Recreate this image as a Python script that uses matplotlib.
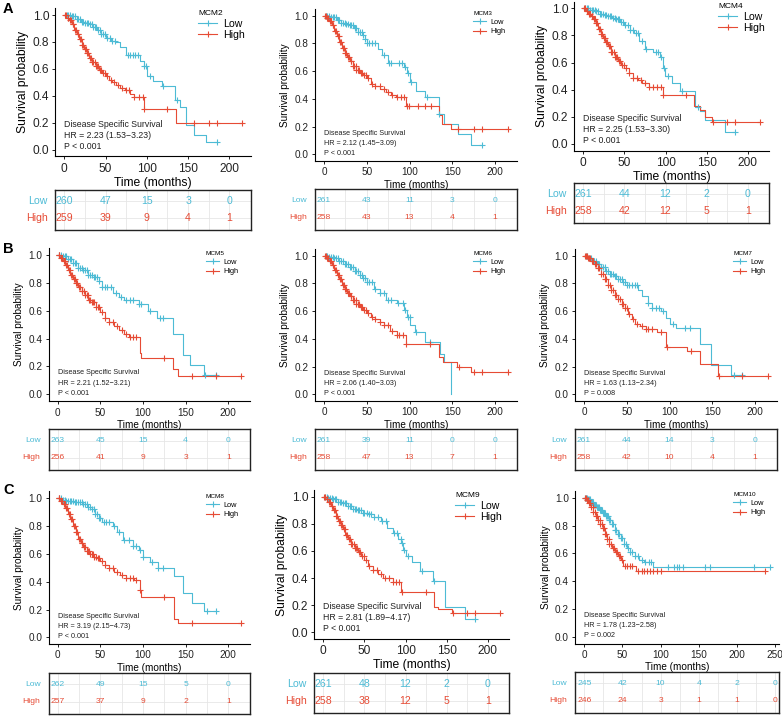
import numpy as np
import matplotlib
matplotlib.use('Agg')
from matplotlib import pyplot as plt
from matplotlib.lines import Line2D

plt.rcParams['font.family'] = ['Liberation Sans', 'DejaVu Sans']

LOW_COL  = '#4DBBD5'
HIGH_COL = '#E64B35'
TXT_COL  = '#222222'

# ---------------- data ----------------
# MCM2
mcm2_low_t  = [0, 8, 15, 20, 25, 30, 35, 40, 45, 50, 57, 62, 68, 75, 92, 96, 100, 108, 118, 134, 140, 148, 157, 172]
mcm2_low_s  = [1.0, 0.99, 0.97, 0.95, 0.94, 0.93, 0.91, 0.89, 0.86, 0.83, 0.81, 0.80, 0.76, 0.70, 0.66, 0.62, 0.55, 0.51, 0.47, 0.37, 0.32, 0.18, 0.11, 0.06]
mcm2_low_c  = [3, 5, 7, 9, 11, 13, 15, 17, 19, 21, 23, 25, 27, 29, 31, 33, 35, 37, 39, 41, 43, 45, 47, 49, 52, 55, 58, 61, 77, 80, 83, 86, 89, 97, 99, 104, 120, 137, 185]
mcm2_high_t = [0, 3, 6, 9, 12, 15, 18, 21, 24, 27, 30, 34, 38, 42, 46, 50, 54, 58, 63, 68, 74, 80, 84, 96, 135]
mcm2_high_s = [1.0, 0.98, 0.96, 0.93, 0.89, 0.86, 0.82, 0.78, 0.75, 0.72, 0.68, 0.65, 0.62, 0.59, 0.57, 0.55, 0.52, 0.50, 0.48, 0.46, 0.44, 0.41, 0.39, 0.30, 0.20]
mcm2_high_c = [1, 2, 4, 5, 7, 8, 10, 11, 13, 14, 16, 17, 19, 20, 22, 23, 25, 26, 28, 29, 31, 32, 34, 35, 37, 38, 40, 41, 43, 45, 47, 49, 52, 56, 60, 65, 70, 75, 78, 85, 90, 95, 97, 125, 157, 175, 185, 215]
mcm2_low_risk  = [260, 47, 15, 3, 0]
mcm2_high_risk = [259, 39, 9, 4, 1]

# MCM3
mcm3_low_t  = [0, 8, 15, 20, 25, 30, 35, 40, 45, 48, 50, 63, 68, 75, 93, 97, 100, 108, 118, 135, 140, 157, 172]
mcm3_low_s  = [1.0, 0.99, 0.97, 0.95, 0.94, 0.93, 0.91, 0.88, 0.86, 0.83, 0.80, 0.76, 0.72, 0.66, 0.63, 0.59, 0.52, 0.46, 0.41, 0.29, 0.22, 0.15, 0.07]
mcm3_low_c  = [2, 4, 6, 8, 10, 12, 14, 16, 18, 20, 22, 24, 26, 28, 30, 32, 34, 36, 38, 40, 42, 44, 46, 48, 50, 53, 56, 60, 70, 76, 78, 88, 91, 95, 98, 102, 120, 135, 185]
mcm3_high_t = [0, 3, 6, 9, 12, 15, 18, 21, 24, 27, 30, 34, 38, 42, 46, 50, 55, 60, 66, 72, 78, 84, 96, 135, 138, 148]
mcm3_high_s = [1.0, 0.98, 0.96, 0.93, 0.89, 0.85, 0.81, 0.77, 0.73, 0.70, 0.67, 0.64, 0.61, 0.59, 0.57, 0.55, 0.51, 0.49, 0.47, 0.45, 0.43, 0.41, 0.35, 0.28, 0.22, 0.18]
mcm3_high_c = [1, 2, 4, 5, 7, 8, 10, 11, 13, 14, 16, 17, 19, 20, 22, 23, 25, 26, 28, 29, 31, 32, 34, 35, 37, 38, 40, 41, 43, 45, 47, 49, 52, 56, 60, 65, 70, 75, 80, 85, 90, 94, 97, 99, 110, 118, 125, 157, 175, 185, 215]
mcm3_low_risk  = [261, 43, 11, 3, 0]
mcm3_high_risk = [258, 43, 13, 4, 1]

# MCM4
mcm4_low_t  = [0, 8, 15, 20, 25, 30, 35, 40, 45, 50, 57, 62, 68, 75, 85, 93, 97, 99, 108, 118, 136, 142, 148, 172]
mcm4_low_s  = [1.0, 0.99, 0.98, 0.96, 0.95, 0.94, 0.93, 0.92, 0.90, 0.88, 0.84, 0.82, 0.76, 0.70, 0.68, 0.64, 0.56, 0.50, 0.45, 0.39, 0.27, 0.24, 0.18, 0.09]
mcm4_low_c  = [2, 4, 6, 8, 10, 12, 14, 16, 18, 20, 22, 24, 26, 28, 30, 32, 34, 36, 38, 40, 42, 44, 46, 48, 51, 54, 57, 60, 64, 66, 72, 76, 88, 91, 95, 98, 103, 120, 140, 185]
mcm4_high_t = [0, 3, 6, 9, 12, 15, 18, 21, 24, 27, 30, 34, 38, 42, 46, 50, 55, 60, 66, 72, 80, 97, 135, 142, 148, 157]
mcm4_high_s = [1.0, 0.98, 0.96, 0.94, 0.92, 0.89, 0.85, 0.81, 0.78, 0.75, 0.72, 0.68, 0.64, 0.61, 0.58, 0.56, 0.52, 0.49, 0.47, 0.45, 0.42, 0.36, 0.28, 0.25, 0.20, 0.165]
mcm4_high_c = [1, 2, 4, 5, 7, 8, 10, 11, 13, 14, 16, 17, 19, 20, 22, 23, 25, 26, 28, 29, 31, 32, 34, 35, 37, 38, 40, 41, 43, 45, 47, 49, 52, 56, 60, 65, 70, 75, 80, 85, 90, 94, 97, 125, 158, 175, 185, 215]
mcm4_low_risk  = [261, 44, 12, 2, 0]
mcm4_high_risk = [258, 42, 12, 5, 1]

# MCM5
mcm5_low_t  = [0, 6, 12, 18, 24, 30, 36, 42, 48, 52, 65, 72, 78, 95, 106, 116, 135, 147, 155, 172]
mcm5_low_s  = [1.0, 0.99, 0.97, 0.94, 0.91, 0.89, 0.86, 0.84, 0.81, 0.77, 0.73, 0.70, 0.68, 0.65, 0.60, 0.55, 0.43, 0.28, 0.21, 0.14]
mcm5_low_c  = [2, 4, 6, 8, 10, 12, 14, 16, 18, 20, 22, 24, 26, 28, 30, 32, 34, 36, 38, 40, 42, 44, 46, 48, 52, 55, 58, 62, 68, 74, 80, 85, 88, 95, 98, 108, 120, 124, 173, 185]
mcm5_high_t = [0, 3, 6, 9, 12, 15, 18, 21, 24, 28, 32, 36, 40, 45, 50, 55, 60, 66, 72, 78, 84, 96, 98, 135, 141]
mcm5_high_s = [1.0, 0.98, 0.96, 0.93, 0.89, 0.86, 0.83, 0.80, 0.77, 0.74, 0.71, 0.68, 0.66, 0.63, 0.59, 0.55, 0.52, 0.49, 0.46, 0.43, 0.41, 0.30, 0.26, 0.18, 0.13]
mcm5_high_c = [1, 2, 4, 5, 7, 8, 10, 11, 13, 14, 16, 17, 19, 20, 22, 23, 25, 26, 28, 29, 31, 32, 34, 35, 37, 38, 40, 41, 43, 45, 47, 49, 52, 56, 60, 65, 70, 75, 80, 85, 88, 92, 125, 158, 185, 215]
mcm5_low_risk  = [263, 45, 15, 4, 0]
mcm5_high_risk = [256, 41, 9, 3, 1]

# MCM6
mcm6_low_t  = [0, 6, 12, 18, 24, 30, 36, 42, 46, 50, 58, 65, 73, 85, 93, 97, 101, 106, 118, 136, 140, 148]
mcm6_low_s  = [1.0, 0.99, 0.98, 0.96, 0.94, 0.92, 0.89, 0.86, 0.84, 0.81, 0.76, 0.73, 0.68, 0.66, 0.61, 0.56, 0.50, 0.45, 0.38, 0.29, 0.23, 0.0]
mcm6_low_c  = [2, 4, 6, 8, 10, 12, 14, 16, 18, 20, 22, 24, 26, 28, 30, 32, 34, 36, 38, 40, 42, 44, 46, 48, 50, 53, 56, 60, 66, 70, 75, 78, 86, 92, 95, 98, 100, 108, 124]
mcm6_high_t = [0, 3, 6, 9, 12, 15, 18, 21, 24, 27, 30, 34, 38, 42, 46, 50, 55, 60, 65, 70, 77, 85, 96, 135, 139, 155, 172]
mcm6_high_s = [1.0, 0.98, 0.96, 0.93, 0.90, 0.86, 0.83, 0.79, 0.76, 0.73, 0.71, 0.68, 0.65, 0.63, 0.61, 0.59, 0.56, 0.54, 0.52, 0.50, 0.46, 0.43, 0.36, 0.27, 0.23, 0.20, 0.16]
mcm6_high_c = [1, 2, 4, 5, 7, 8, 10, 11, 13, 14, 16, 17, 19, 20, 22, 23, 25, 26, 28, 29, 31, 32, 34, 35, 37, 38, 40, 41, 43, 45, 47, 49, 52, 56, 60, 65, 70, 75, 80, 85, 88, 92, 96, 124, 158, 175, 185, 215]
mcm6_low_risk  = [261, 39, 11, 0, 0]
mcm6_high_risk = [258, 47, 13, 7, 1]

# MCM7
mcm7_low_t  = [0, 5, 10, 15, 20, 25, 30, 35, 40, 45, 50, 63, 68, 75, 80, 90, 96, 100, 108, 136, 148, 172]
mcm7_low_s  = [1.0, 0.98, 0.96, 0.94, 0.92, 0.89, 0.87, 0.85, 0.83, 0.81, 0.79, 0.75, 0.71, 0.66, 0.62, 0.60, 0.55, 0.51, 0.48, 0.36, 0.21, 0.14]
mcm7_low_c  = [2, 4, 6, 8, 10, 12, 14, 16, 18, 20, 22, 24, 26, 28, 30, 32, 34, 36, 38, 40, 42, 44, 46, 48, 50, 53, 56, 60, 62, 75, 80, 84, 88, 92, 104, 118, 124, 175, 185]
mcm7_high_t = [0, 4, 8, 12, 16, 20, 24, 28, 32, 36, 40, 44, 48, 52, 56, 60, 66, 72, 85, 96, 120, 136, 157]
mcm7_high_s = [1.0, 0.98, 0.96, 0.94, 0.91, 0.87, 0.83, 0.79, 0.75, 0.72, 0.69, 0.65, 0.62, 0.58, 0.54, 0.51, 0.49, 0.47, 0.45, 0.34, 0.31, 0.22, 0.13]
mcm7_high_c = [1, 2, 3, 5, 6, 7, 9, 11, 13, 14, 16, 18, 20, 22, 24, 26, 28, 30, 32, 34, 36, 38, 40, 42, 44, 46, 48, 50, 53, 57, 62, 68, 72, 75, 80, 90, 97, 125, 158, 185, 215]
mcm7_low_risk  = [261, 44, 14, 3, 0]
mcm7_high_risk = [258, 42, 10, 4, 1]

# MCM8
mcm8_low_t  = [0, 5, 10, 20, 30, 36, 40, 44, 48, 52, 65, 70, 77, 88, 95, 100, 108, 118, 136, 147, 157, 172]
mcm8_low_s  = [1.0, 0.99, 0.98, 0.97, 0.96, 0.94, 0.92, 0.89, 0.86, 0.83, 0.80, 0.76, 0.70, 0.66, 0.63, 0.58, 0.54, 0.50, 0.44, 0.32, 0.25, 0.19]
mcm8_low_c  = [2, 4, 6, 8, 10, 12, 14, 16, 18, 20, 22, 24, 26, 28, 30, 32, 34, 36, 38, 40, 42, 44, 46, 48, 50, 54, 57, 60, 66, 72, 78, 84, 88, 92, 96, 100, 110, 118, 124, 175, 185]
mcm8_high_t = [0, 3, 6, 9, 12, 15, 18, 21, 24, 27, 30, 34, 38, 42, 46, 50, 55, 60, 66, 73, 80, 90, 96, 98, 136, 141]
mcm8_high_s = [1.0, 0.98, 0.96, 0.93, 0.89, 0.85, 0.80, 0.76, 0.71, 0.68, 0.65, 0.62, 0.60, 0.58, 0.57, 0.55, 0.52, 0.50, 0.47, 0.45, 0.43, 0.41, 0.34, 0.29, 0.13, 0.10]
mcm8_high_c = [1, 2, 4, 5, 7, 8, 10, 11, 13, 14, 16, 17, 19, 20, 22, 23, 25, 26, 28, 29, 31, 32, 34, 35, 37, 38, 40, 41, 43, 45, 47, 49, 52, 56, 60, 65, 70, 75, 80, 85, 88, 92, 96, 125, 158, 215]
mcm8_low_risk  = [262, 49, 15, 5, 0]
mcm8_high_risk = [257, 37, 9, 2, 1]

# MCM9
mcm9_low_t  = [0, 6, 12, 18, 24, 30, 36, 42, 48, 55, 62, 70, 77, 85, 91, 95, 97, 101, 108, 118, 134, 148, 172]
mcm9_low_s  = [1.0, 0.99, 0.98, 0.96, 0.95, 0.93, 0.91, 0.90, 0.88, 0.87, 0.85, 0.82, 0.77, 0.73, 0.69, 0.66, 0.61, 0.56, 0.52, 0.45, 0.38, 0.19, 0.10]
mcm9_low_c  = [2, 4, 6, 8, 10, 12, 14, 16, 18, 20, 22, 24, 26, 28, 30, 32, 34, 36, 38, 40, 42, 44, 46, 48, 50, 53, 56, 58, 62, 66, 72, 76, 86, 90, 94, 96, 98, 103, 120, 135, 185]
mcm9_high_t = [0, 3, 6, 9, 12, 15, 18, 21, 24, 27, 30, 34, 38, 42, 46, 50, 54, 60, 66, 73, 85, 95, 135, 140, 156]
mcm9_high_s = [1.0, 0.98, 0.96, 0.93, 0.90, 0.86, 0.82, 0.79, 0.76, 0.72, 0.69, 0.65, 0.62, 0.59, 0.56, 0.53, 0.49, 0.46, 0.43, 0.40, 0.37, 0.30, 0.19, 0.17, 0.14]
mcm9_high_c = [1, 2, 4, 5, 7, 8, 10, 11, 13, 14, 16, 17, 19, 20, 22, 23, 25, 26, 28, 29, 31, 32, 34, 35, 37, 38, 40, 41, 43, 45, 47, 49, 52, 56, 60, 65, 70, 75, 80, 85, 88, 92, 96, 125, 158, 175, 185, 215]
mcm9_low_risk  = [261, 48, 12, 2, 0]
mcm9_high_risk = [258, 38, 12, 5, 1]

# MCM10
mcm10_low_t  = [0, 4, 8, 12, 16, 20, 24, 28, 32, 36, 40, 44, 48, 52, 56, 60, 66, 72, 78, 90]
mcm10_low_s  = [1.0, 0.99, 0.97, 0.95, 0.93, 0.91, 0.89, 0.87, 0.84, 0.81, 0.77, 0.74, 0.71, 0.67, 0.64, 0.61, 0.58, 0.55, 0.54, 0.50]
mcm10_low_c  = [1, 2, 3, 5, 6, 7, 9, 10, 11, 13, 14, 15, 17, 18, 19, 21, 22, 23, 25, 26, 27, 29, 30, 31, 33, 34, 36, 38, 40, 42, 44, 46, 48, 50, 52, 54, 57, 60, 63, 66, 70, 75, 80, 85, 88, 110, 118, 122, 124, 130, 158, 165, 222, 243]
mcm10_high_t = [0, 3, 6, 9, 12, 15, 18, 21, 24, 27, 30, 33, 36, 40, 44, 48, 51, 68]
mcm10_high_s = [1.0, 0.98, 0.96, 0.93, 0.90, 0.87, 0.84, 0.81, 0.78, 0.74, 0.70, 0.67, 0.64, 0.61, 0.58, 0.55, 0.51, 0.47]
mcm10_high_c = [1, 2, 3, 5, 6, 8, 9, 11, 12, 14, 15, 17, 18, 20, 21, 23, 24, 26, 27, 29, 30, 32, 33, 35, 37, 39, 41, 43, 45, 47, 50, 53, 56, 60, 63, 70, 75, 78, 82, 86, 90, 95, 100, 237]
mcm10_low_risk  = [245, 42, 10, 4, 2, 0]
mcm10_high_risk = [246, 24, 3, 1, 1, 0]

genes    = ['MCM2', 'MCM3', 'MCM4', 'MCM5', 'MCM6', 'MCM7', 'MCM8', 'MCM9', 'MCM10']
hr_texts = ['HR = 2.23 (1.53\u22123.23)', 'HR = 2.12 (1.45\u22123.09)', 'HR = 2.25 (1.53\u22123.30)',
            'HR = 2.21 (1.52\u22123.21)', 'HR = 2.06 (1.40\u22123.03)', 'HR = 1.63 (1.13\u22122.34)',
            'HR = 3.19 (2.15\u22124.73)', 'HR = 2.81 (1.89\u22124.17)', 'HR = 1.78 (1.23\u22122.58)']
p_texts  = ['P < 0.001', 'P < 0.001', 'P < 0.001', 'P < 0.001', 'P < 0.001',
            'P = 0.008', 'P < 0.001', 'P < 0.001', 'P = 0.002']
x_ticks  = [[0, 50, 100, 150, 200]] * 8 + [[0, 50, 100, 150, 200, 250]]

curves = [
    (mcm2_low_t, mcm2_low_s, mcm2_low_c, mcm2_high_t, mcm2_high_s, mcm2_high_c, mcm2_low_risk, mcm2_high_risk),
    (mcm3_low_t, mcm3_low_s, mcm3_low_c, mcm3_high_t, mcm3_high_s, mcm3_high_c, mcm3_low_risk, mcm3_high_risk),
    (mcm4_low_t, mcm4_low_s, mcm4_low_c, mcm4_high_t, mcm4_high_s, mcm4_high_c, mcm4_low_risk, mcm4_high_risk),
    (mcm5_low_t, mcm5_low_s, mcm5_low_c, mcm5_high_t, mcm5_high_s, mcm5_high_c, mcm5_low_risk, mcm5_high_risk),
    (mcm6_low_t, mcm6_low_s, mcm6_low_c, mcm6_high_t, mcm6_high_s, mcm6_high_c, mcm6_low_risk, mcm6_high_risk),
    (mcm7_low_t, mcm7_low_s, mcm7_low_c, mcm7_high_t, mcm7_high_s, mcm7_high_c, mcm7_low_risk, mcm7_high_risk),
    (mcm8_low_t, mcm8_low_s, mcm8_low_c, mcm8_high_t, mcm8_high_s, mcm8_high_c, mcm8_low_risk, mcm8_high_risk),
    (mcm9_low_t, mcm9_low_s, mcm9_low_c, mcm9_high_t, mcm9_high_s, mcm9_high_c, mcm9_low_risk, mcm9_high_risk),
    (mcm10_low_t, mcm10_low_s, mcm10_low_c, mcm10_high_t, mcm10_high_s, mcm10_high_c, mcm10_low_risk, mcm10_high_risk),
]

# ---------------- layout (pixel positions of the panels) ----------------
# x0: pixel of t=0, xr: pixel of t=200, y1/y0: pixel of S=1 / S=0,
# tt/tb: table box top/bottom, leg: legend title (left, centre y), big: large fonts
layout = [
    dict(x0=64.3,  xr=229.3, y1=15.0,  y0=149.7, tt=190.0, tb=230.0, leg=(198, 15),  big=True),
    dict(x0=324.0, xr=495.0, y1=15.7,  y0=154.3, tt=189.3, tb=230.0, leg=(473, 15),  big=False),
    dict(x0=583.3, xr=747.7, y1=8.3,   y0=144.0, tt=182.7, tb=222.7, leg=(718, 8),   big=True),
    dict(x0=57.7,  xr=228.3, y1=255.0, y0=394.3, tt=429.3, tb=470.0, leg=(206, 255), big=False),
    dict(x0=324.0, xr=495.0, y1=255.7, y0=394.3, tt=429.3, tb=470.0, leg=(473, 255), big=False),
    dict(x0=584.0, xr=755.0, y1=255.7, y0=394.3, tt=429.3, tb=470.0, leg=(733, 255), big=False),
    dict(x0=57.7,  xr=228.3, y1=498.3, y0=637.3, tt=672.7, tb=714.0, leg=(206, 498), big=False),
    dict(x0=323.3, xr=487.7, y1=496.7, y0=632.3, tt=672.7, tb=712.7, leg=(455, 497), big=True),
    dict(x0=584.3, xr=736.9, y1=497.7, y0=636.7, tt=671.7, tb=713.3, leg=(733, 496), big=False),
]
panel_letters = [('A', 3, 2), ('B', 3, 242), ('C', 3, 483)]

W, H = 782, 716
fig = plt.figure(figsize=(W / 100, H / 100), dpi=100)


def px_axes(l, t, r, b):
    return fig.add_axes([l / W, 1 - b / H, (r - l) / W, (b - t) / H])


def km_line(ax, t, s, c, color, lw, ms):
    t = np.asarray(t, float); s = np.asarray(s, float); c = np.asarray(c, float)
    tend = max(t[-1], c.max())
    ax.plot(np.append(t, tend), np.append(s, s[-1]), drawstyle='steps-post',
            color=color, lw=lw, zorder=3)
    idx = np.searchsorted(t, c, side='right') - 1
    ax.plot(c, s[idx], ls='none', marker='+', color=color, ms=ms, mew=lw, zorder=4)
    return tend


for k, (gene, cv, lay) in enumerate(zip(genes, curves, layout)):
    lt, ls_, lc, ht, hs, hc, lrisk, hrisk = cv
    big = lay['big']
    fs_tick  = 8.6 if big else 7.2
    fs_lab   = 8.7 if big else 7.2
    fs_note  = 6.3 if big else 5.2
    fs_leg   = 7.6 if big else 5.3
    fs_legt  = 6.0 if big else 4.6
    fs_tab   = 7.6 if big else 6.1
    lw = 0.8

    tmax = max(max(lt[-1], max(lc)), max(ht[-1], max(hc)))
    xlo, xhi = -0.05 * tmax, 1.05 * tmax
    ppm = (lay['xr'] - lay['x0']) / 200.0
    left = lay['x0'] + xlo * ppm
    right = lay['x0'] + xhi * ppm
    ppu = lay['y0'] - lay['y1']
    top = lay['y1'] - 0.05 * ppu
    bot = lay['y0'] + 0.05 * ppu

    ax = px_axes(left, top, right, bot)
    km_line(ax, lt, ls_, lc, LOW_COL, lw, 4.5 if big else 4)
    km_line(ax, ht, hs, hc, HIGH_COL, lw, 4.5 if big else 4)
    ax.set_xlim(xlo, xhi)
    ax.set_ylim(-0.05, 1.05)
    ax.set_xticks(x_ticks[k])
    ax.set_yticks([0, 0.2, 0.4, 0.6, 0.8, 1.0])
    ax.set_yticklabels(['0.0', '0.2', '0.4', '0.6', '0.8', '1.0'])
    for sp in ['top', 'right']:
        ax.spines[sp].set_visible(False)
    for sp in ['left', 'bottom']:
        ax.spines[sp].set_linewidth(0.8)
    ax.tick_params(labelsize=fs_tick, length=2.5, width=0.7, pad=2, colors=TXT_COL)
    ax.set_xlabel('Time (months)', fontsize=fs_lab, labelpad=1.5)
    ax.set_ylabel('Survival probability', fontsize=fs_lab, labelpad=3)

    # annotation text
    y_start = 0.19 if big else 0.153
    dy = 0.082 if big else 0.072
    for i, txt in enumerate(['Disease Specific Survival', hr_texts[k], p_texts[k]]):
        ax.text(0, y_start - i * dy, txt, fontsize=fs_note, va='center', ha='left', color=TXT_COL)

    # legend
    handles = [Line2D([0], [0], color=LOW_COL, lw=lw, marker='+', ms=5, mew=lw),
               Line2D([0], [0], color=HIGH_COL, lw=lw, marker='+', ms=5, mew=lw)]
    lx, ly = lay['leg']
    leg = ax.legend(handles, ['Low', 'High'], title=gene, loc='upper left',
                    bbox_to_anchor=(lx / W, 1 - (ly - (5 if big else 4)) / H),
                    bbox_transform=fig.transFigure, frameon=False,
                    fontsize=fs_leg, title_fontsize=fs_legt, borderpad=0, borderaxespad=0,
                    handlelength=1.8, handletextpad=0.6, labelspacing=0.15 if big else 0.35)
    leg._legend_box.align = 'left'

    # risk table
    tax = px_axes(left, lay['tt'], right, lay['tb'])
    tax.set_xlim(xlo, xhi)
    tax.set_ylim(0, 1)
    ticks = x_ticks[k]
    for j, tx in enumerate(ticks):
        tax.text(tx, 0.72, str(lrisk[j]), color=LOW_COL, fontsize=fs_tab, ha='center', va='center')
        tax.text(tx, 0.30, str(hrisk[j]), color=HIGH_COL, fontsize=fs_tab, ha='center', va='center')
    tax.text(-0.04, 0.72, 'Low', color=LOW_COL, fontsize=fs_tab, ha='right', va='center',
             transform=tax.transAxes)
    tax.text(-0.04, 0.30, 'High', color=HIGH_COL, fontsize=fs_tab, ha='right', va='center',
             transform=tax.transAxes)
    mids = [(a + b) / 2 for a, b in zip(ticks[:-1], ticks[1:])]
    for g in list(ticks) + mids:
        tax.axvline(g, color='#E6E6E6', lw=0.6, zorder=0)
    for g in [0.30, 0.72]:
        tax.axhline(g, color='#E6E6E6', lw=0.6, zorder=0)
    tax.set_xticks([]); tax.set_yticks([])
    for sp in tax.spines.values():
        sp.set_linewidth(1.0)
        sp.set_color('#222222')

for letter, x, y in panel_letters:
    fig.text(x / W, 1 - y / H, letter, fontsize=10.5, fontweight='bold', va='top', ha='left')

fig.savefig('out.png', dpi=100)
